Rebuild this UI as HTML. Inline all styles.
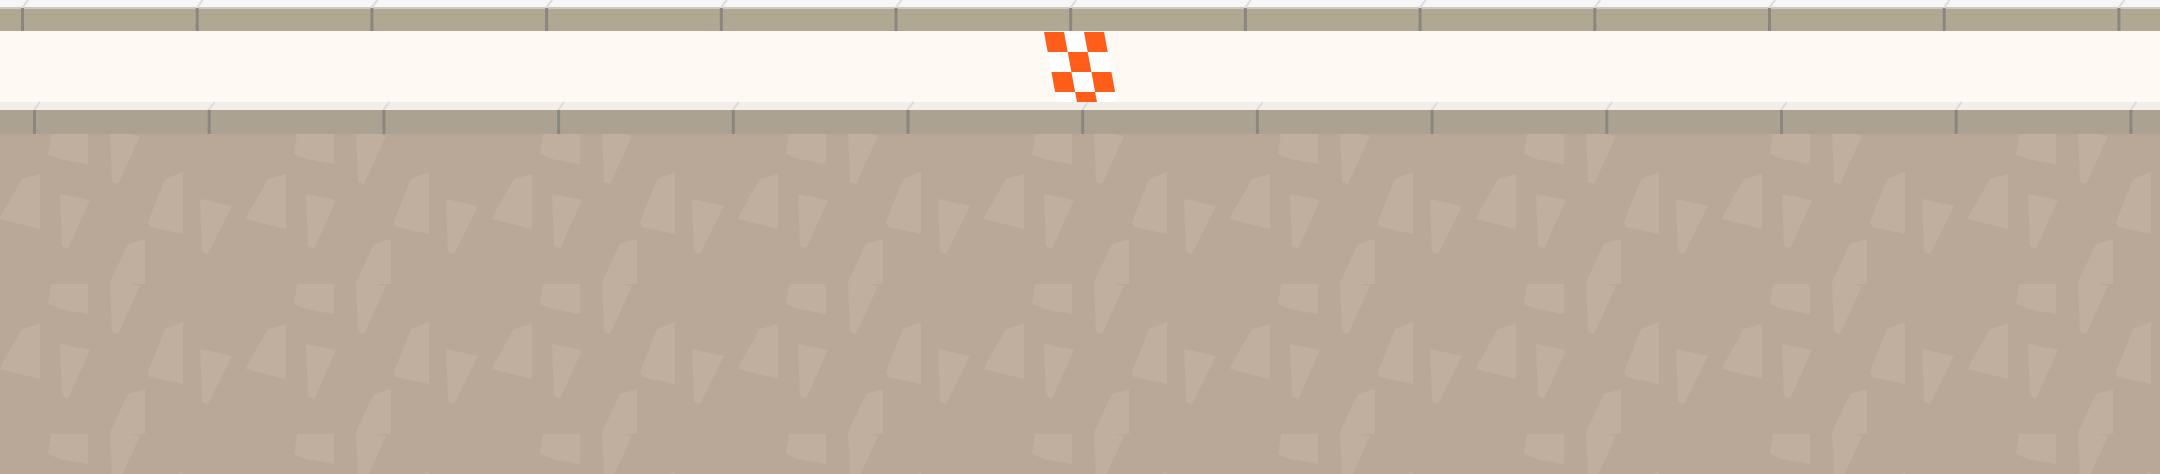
<!DOCTYPE html>
<html><head><meta charset="utf-8"><style>
html,body{margin:0;padding:0;width:2160px;height:474px;overflow:hidden;background:#b9a898;font-family:"Liberation Sans",sans-serif}
svg{display:block}
</style></head><body>
<svg width="2160" height="474" xmlns="http://www.w3.org/2000/svg">
<defs>
<pattern id="tri" x="0" y="134" width="246" height="150" patternUnits="userSpaceOnUse">
<g fill="#c0ae9f">
<polygon points="52,-6 88,-2 88,30 60,25 48,20"/>
<polygon points="110,-4 140,2 118,50 112,48"/>
<polygon points="22,45 40,40 40,95 0,85 2,80"/>
<polygon points="60,60 90,66 68,115 62,112"/>
<polygon points="165,45 183,38 183,100 150,93 148,88"/>
<polygon points="200,65 232,72 208,120 202,118"/>
<polygon points="128,110 145,105 145,160 110,152 110,148"/>
</g>
</pattern>
</defs>
<rect x="0" y="134" width="2160" height="340" fill="#b9a898"/>
<rect x="0" y="134" width="2160" height="340" fill="url(#tri)"/>
<rect x="0" y="0" width="2160" height="8" fill="#f6f6f6"/>
<rect x="0" y="7" width="2160" height="2" fill="#cfcac0"/>
<rect x="0" y="9" width="2160" height="22" fill="#b0a892"/>
<rect x="0" y="31" width="2160" height="71" fill="#fef9f3"/>
<rect x="0" y="102" width="2160" height="8" fill="#f2efe8"/>
<rect x="0" y="110" width="2160" height="24" fill="#aba291"/>
<g id="posts"></g>
<g transform="translate(1044,32) skewX(10.5)">
<rect x="0" y="0" width="60" height="70" fill="#ffffff"/>
<g fill="#ff5e1a">
<rect x="0" y="0" width="20" height="20"/><rect x="40" y="0" width="20" height="20"/>
<rect x="20" y="20" width="20" height="20"/>
<rect x="0" y="40" width="20" height="20"/><rect x="40" y="40" width="20" height="20"/>
<rect x="20" y="60" width="20" height="10"/>
</g>
</g>
</svg>
<script>
const g=document.getElementById('posts');
const ns='http://www.w3.org/2000/svg';
for(let i=0;i<13;i++){
  const x=21+i*174.7;
  [[x,8,31],[x+12,110,134]].forEach(p=>{
    const s=document.createElementNS(ns,'line');
    s.setAttribute('x1',p[0]+1);s.setAttribute('y1',p[1]);
    s.setAttribute('x2',p[0]+7);s.setAttribute('y2',p[1]-8);
    s.setAttribute('stroke','#dcdcdc');s.setAttribute('stroke-width','2');
    g.appendChild(s);
    const r=document.createElementNS(ns,'rect');
    
    
    r.setAttribute('x',p[0]);r.setAttribute('y',p[1]);
    r.setAttribute('width',3);r.setAttribute('height',p[2]-p[1]);
    r.setAttribute('fill','#8a877f');
    g.appendChild(r);
  });
}
</script>
</body></html>
